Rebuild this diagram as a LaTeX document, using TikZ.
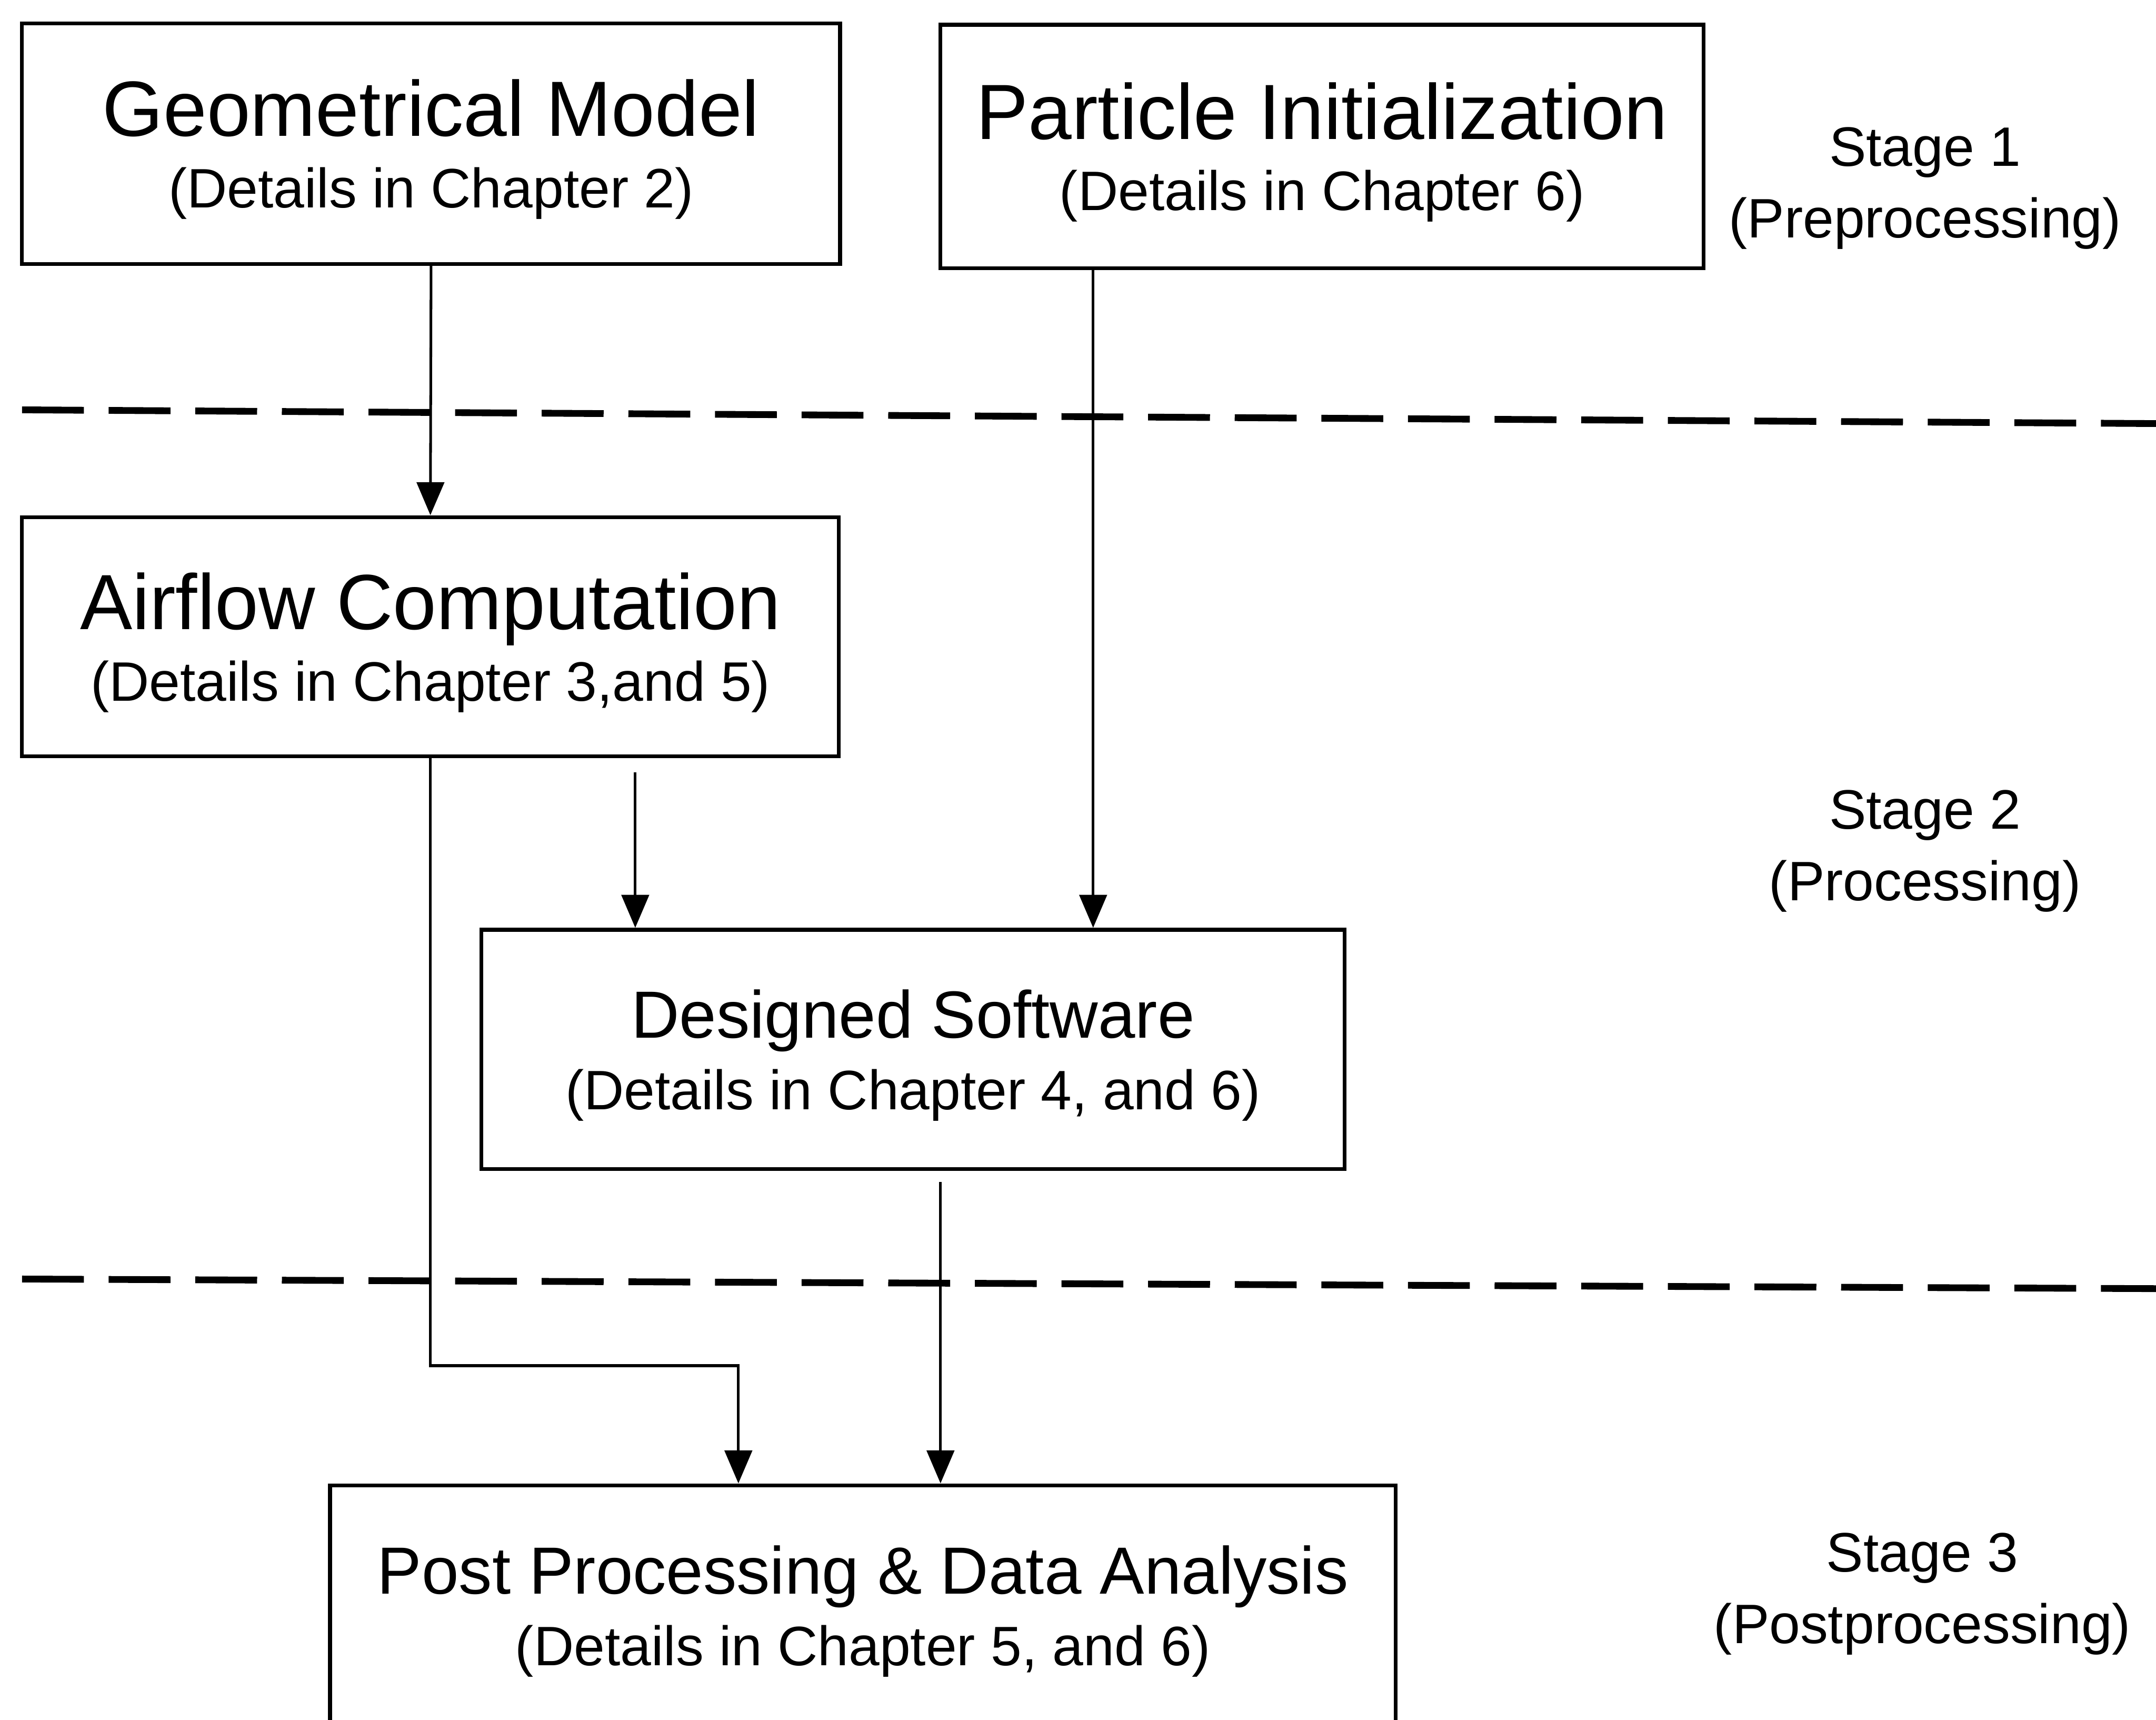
\documentclass[tikz,border=0pt]{standalone}
\usepackage{fontspec}
\setmainfont{Liberation Sans}
\usetikzlibrary{arrows.meta}

\newcommand{\ttlbig}{\fontsize{16.2}{19}\selectfont\rule{0pt}{14.1pt}}
\newcommand{\ttlmid}{\fontsize{13.8}{16}\selectfont\rule{0pt}{12.4pt}}

\begin{document}
\begin{tikzpicture}[
    font=\fontsize{11.5}{14.8}\selectfont,
    stagebox/.style={draw, rectangle, line width=0.8pt, inner sep=0pt,
                     align=center, minimum height=1.75cm},
    arr/.style={-{Triangle[length=0.24cm, width=0.2cm]}, line width=0.55pt},
    sep/.style={line width=1.4pt, dash pattern=on 0.45cm off 0.18cm},
    stagelbl/.style={align=center},
  ]
  \useasboundingbox (0,0) rectangle (15.68,-12.505);

  %% ================================================================
  %% Stage 1 (preprocessing)
  %% ================================================================
  \node[stagebox, minimum width=5.95cm] (Geo) at (3.135,-1.045)
    {{\ttlbig Geometrical Model}\\(Details in Chapter 2)};
  \node[stagebox, minimum width=5.55cm, minimum height=1.77cm] (Part) at (9.615,-1.065)
    {{\ttlbig Particle Initialization}\\(Details in Chapter 6)};

  \node[stagelbl] (S1) at (14.0,-1.37) {Stage 1\\(Preprocessing)};

  \draw[sep] (0.16,-2.98) -- (15.68,-3.08);

  %% ================================================================
  %% Stage 2 (processing)
  %% ================================================================
  \node[stagebox, minimum width=5.94cm, minimum height=1.74cm] (Air) at (3.13,-4.63)
    {{\ttlbig Airflow Computation}\\(Details in Chapter 3,and 5)};
  \node[stagebox, minimum width=6.28cm, minimum height=1.74cm] (Soft) at (6.64,-7.63)
    {{\ttlmid Designed Software}\\(Details in Chapter 4, and 6)};

  \node[stagelbl] (S2) at (14.0,-6.19) {Stage 2\\(Processing)};

  \draw[sep] (0.16,-9.30) -- (15.68,-9.37);

  %% ================================================================
  %% Stage 3 (postprocessing)
  %% ================================================================
  \node[stagebox, minimum width=7.75cm] (Post) at (6.275,-11.675)
    {{\ttlmid Post Processing \& Data Analysis}\\(Details in Chapter 5, and 6)};

  \node[stagelbl] (S3) at (13.98,-11.59) {Stage 3\\(Postprocessing)};

  %% connectors
  \coordinate (pcol) at (7.95,0);
  \coordinate (acol) at (4.62,0);
  \coordinate (scol) at (6.84,0);
  \coordinate (bend) at (5.37,-9.93);

  \draw[arr] (Geo.south) -- (Air.north);
  \draw[arr] (Part.south -| pcol) -- (Soft.north -| pcol);
  \draw[arr] ([yshift=-0.1cm]Air.south -| acol) -- (Soft.north -| acol);
  \draw[arr] (Air.south) |- (bend) -- (Post.north -| bend);
  \draw[arr] ([yshift=-0.08cm]Soft.south -| scol) -- (Post.north -| scol);

\end{tikzpicture}
\end{document}
